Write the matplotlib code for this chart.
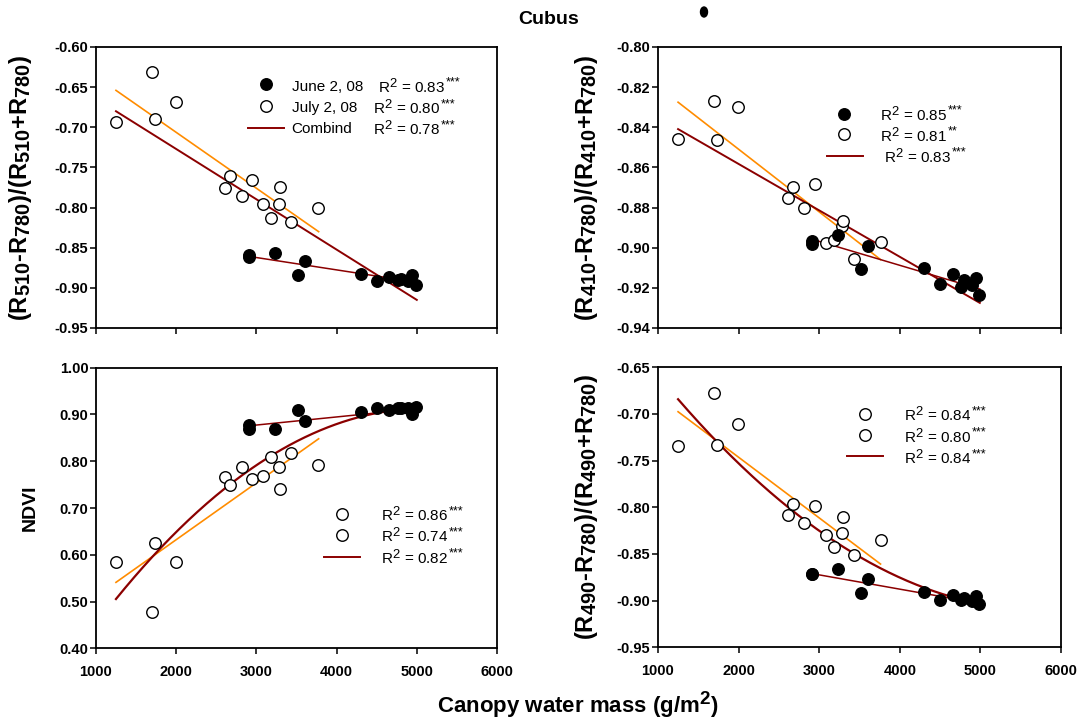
import matplotlib
matplotlib.use('Agg')
import matplotlib.pyplot as plt
import matplotlib._mathtext as _mt
import numpy as np
from matplotlib.patches import Ellipse
from matplotlib.text import Annotation

plt.rcParams['font.family'] = ['Liberation Sans', 'DejaVu Sans']
plt.rcParams['mathtext.fontset'] = 'custom'
plt.rcParams['mathtext.rm'] = 'Liberation Sans'
plt.rcParams['mathtext.bf'] = 'Liberation Sans:bold'
plt.rcParams['mathtext.it'] = 'Liberation Sans:italic'
plt.rcParams['mathtext.default'] = 'regular'
_mt.SHRINK_FACTOR = 0.85  # larger sub/superscripts as in the reference

# ---------------- data ----------------
june_x = [2905, 2910, 3236, 3518, 3611, 4300, 4502, 4654, 4760, 4801, 4895, 4946, 4985]
july_x = [1249, 1695, 1733, 1995, 2611, 2671, 2816, 2947, 3080, 3181, 3279, 3292, 3427, 3763]

# panel A: (R510-R780)/(R510+R780)
a_june = [-0.859, -0.862, -0.856, -0.884, -0.867, -0.883, -0.891, -0.887, -0.890, -0.889, -0.891, -0.884, -0.896]
a_july = [-0.693, -0.631, -0.690, -0.669, -0.775, -0.761, -0.785, -0.766, -0.796, -0.813, -0.795, -0.774, -0.818, -0.800]
a_fit_july = ([1249, 3776], [-0.654, -0.830])
a_fit_june = ([2920, 5000], [-0.861, -0.893])
a_fit_comb = ([1249, 5000], [-0.680, -0.915])

# panel B: (R410-R780)/(R410+R780)
b_june = [-0.8965, -0.8982, -0.8937, -0.9105, -0.8992, -0.9099, -0.9180, -0.9129, -0.9197, -0.9160, -0.9185, -0.9150, -0.9234]
b_july = [-0.8460, -0.8267, -0.8464, -0.8297, -0.8752, -0.8697, -0.8800, -0.8682, -0.8979, -0.8964, -0.8892, -0.8867, -0.9057, -0.8972]
b_fit_july = ([1249, 3761], [-0.8275, -0.9059])
b_fit_june = ([2903, 4993], [-0.8957, -0.9206])
b_fit_comb = ([1249, 4993], [-0.8409, -0.9275])

# panel C: NDVI
c_june = [0.877, 0.868, 0.869, 0.910, 0.887, 0.906, 0.913, 0.910, 0.913, 0.914, 0.914, 0.900, 0.917]
c_july = [0.584, 0.478, 0.626, 0.585, 0.766, 0.749, 0.788, 0.762, 0.768, 0.808, 0.788, 0.741, 0.817, 0.791]
c_fit_july = ([1249, 3776], [0.541, 0.848])
c_fit_june = ([2920, 5000], [0.876, 0.912])
c_curve_comb = ([1249, 1736, 2671, 3419, 4304, 5000], [0.505, 0.603, 0.749, 0.835, 0.897, 0.912])

# panel D: (R490-R780)/(R490+R780)
d_june = [-0.8715, -0.8715, -0.8665, -0.8915, -0.8765, -0.8904, -0.8990, -0.8943, -0.8990, -0.8975, -0.9000, -0.8945, -0.9035]
d_july = [-0.734, -0.678, -0.733, -0.711, -0.808, -0.796, -0.817, -0.799, -0.830, -0.843, -0.828, -0.810, -0.851, -0.835]
d_fit_july = ([1249, 3761], [-0.6976, -0.8608])
d_fit_june = ([2961, 4993], [-0.8718, -0.9029])
d_curve_comb = ([1249, 1726, 2670, 3426, 4293, 4993], [-0.6843, -0.7297, -0.803, -0.848, -0.8886, -0.902])

x_ticks = [1000, 2000, 3000, 4000, 5000, 6000]

# ---------------- figure ----------------
W, H = 1079, 721
fig = plt.figure(figsize=(W / 100, H / 100), dpi=100)

def fx(px):
    return px / W

def fy(py):
    return 1 - py / H

def make_ax(l, t, r, b):
    return fig.add_axes([fx(l), fy(b), (r - l) / W, (b - t) / H])

axA = make_ax(96, 47, 497, 328)
axB = make_ax(658, 47, 1061, 328)
axC = make_ax(96, 367.7, 497, 648.3)
axD = make_ax(658, 367.3, 1061, 647.3)

ORANGE = '#FF8C00'
DARKRED = '#8B0000'
MS = 8.3

def draw(ax, jy, ly, fj, fjn, comb, curve, ylim, yticks, fmt, showx):
    ax.plot(fj[0], fj[1], color=ORANGE, lw=1.2, zorder=2)
    ax.plot(fjn[0], fjn[1], color=DARKRED, lw=1.1, zorder=2)
    if curve:
        c = np.polyfit(comb[0], comb[1], 2)
        xs = np.linspace(comb[0][0], comb[0][-1], 200)
        ax.plot(xs, np.polyval(c, xs), color=DARKRED, lw=1.6, zorder=2)
    else:
        ax.plot(comb[0], comb[1], color=DARKRED, lw=1.4, zorder=2)
    ax.plot(july_x, ly, 'o', ms=MS, mfc='white', mec='black', mew=1.0, zorder=3)
    ax.plot(june_x, jy, 'o', ms=MS, mfc='black', mec='black', mew=1.0, zorder=4)
    ax.set_xlim(1000, 6000)
    ax.set_ylim(*ylim)
    ax.set_xticks(x_ticks)
    ax.set_yticks(yticks)
    ax.set_yticklabels([fmt % v for v in yticks])
    if showx:
        ax.set_xticklabels([str(v) for v in x_ticks])
    else:
        ax.set_xticklabels([])
    ax.tick_params(direction='out', length=4, width=1.1, top=False, right=False)
    ax.tick_params(axis='y', pad=1.5)
    ax.tick_params(axis='x', pad=8)
    for lab in ax.get_xticklabels() + ax.get_yticklabels():
        lab.set_fontweight('bold')
        lab.set_fontsize(10.5)
    for s in ax.spines.values():
        s.set_linewidth(1.3)

draw(axA, a_june, a_july, a_fit_july, a_fit_june, a_fit_comb, False,
     (-0.95, -0.60), [-0.95, -0.90, -0.85, -0.80, -0.75, -0.70, -0.65, -0.60], '%.2f', False)
draw(axB, b_june, b_july, b_fit_july, b_fit_june, b_fit_comb, False,
     (-0.94, -0.80), [-0.94, -0.92, -0.90, -0.88, -0.86, -0.84, -0.82, -0.80], '%.2f', False)
draw(axC, c_june, c_july, c_fit_july, c_fit_june, c_curve_comb, True,
     (0.40, 1.00), [0.40, 0.50, 0.60, 0.70, 0.80, 0.90, 1.00], '%.2f', True)
draw(axD, d_june, d_july, d_fit_july, d_fit_june, d_curve_comb, True,
     (-0.95, -0.65), [-0.95, -0.90, -0.85, -0.80, -0.75, -0.70, -0.65], '%.2f', True)

# ---------------- legends (manual) ----------------
def marker(px, py, filled):
    fig.add_artist(plt.Line2D([fx(px)], [fy(py)], marker='o', ms=MS,
                              mfc='black' if filled else 'white', mec='black', mew=1.0,
                              transform=fig.transFigure))

def sample(x0, x1, py):
    fig.add_artist(plt.Line2D([fx(x0), fx(x1)], [fy(py), fy(py)], color=DARKRED, lw=1.4,
                              transform=fig.transFigure))

def txt(px, py, s, stars=None):
    t = fig.text(fx(px), fy(py), s, fontsize=11, ha='left', va='center')
    if stars:
        a = Annotation(stars, xy=(1.0, 1.0), xycoords=t, xytext=(0.3, 0.5),
                       textcoords='offset points', ha='left', va='top', fontsize=9)
        fig.add_artist(a)
    return t

# A
marker(265.7, 84.3, True)
marker(265.7, 105.7, False)
sample(247.7, 284.3, 127.7)
txt(291.7, 86.7, 'June 2, 08')
txt(378.3, 86.7, 'R$^2$ = 0.83', '***')
txt(291.7, 108.3, 'July 2, 08')
txt(372.7, 108.3, 'R$^2$ = 0.80', '***')
txt(291.7, 129.3, 'Combind')
txt(372.7, 129.3, 'R$^2$ = 0.78', '***')
# B
marker(844.3, 113.7, True)
marker(844.3, 134.3, False)
sample(826.7, 863.3, 155.7)
txt(880, 115, 'R$^2$ = 0.85', '***')
txt(880, 135.7, 'R$^2$ = 0.81', '**')
txt(884.3, 156.7, 'R$^2$ = 0.83', '***')
# C
marker(341.7, 514, False)
marker(341.7, 535, False)
sample(324.3, 360, 556.7)
txt(381, 515.3, 'R$^2$ = 0.86', '***')
txt(381, 536.3, 'R$^2$ = 0.74', '***')
txt(381, 557.7, 'R$^2$ = 0.82', '***')
# D
marker(864.7, 414, False)
marker(864.7, 434.7, False)
sample(846.7, 883.3, 456)
txt(904, 415.3, 'R$^2$ = 0.84', '***')
txt(904, 436.7, 'R$^2$ = 0.80', '***')
txt(904, 458.3, 'R$^2$ = 0.84', '***')

# ---------------- labels ----------------
ylab_kw = dict(rotation=90, ha='center', va='center', fontweight='bold', fontsize=17)
fig.text(fx(21), fy(187.5), '(R$_{510}$-R$_{780}$)/(R$_{510}$+R$_{780}$)', **ylab_kw)
fig.text(fx(586), fy(187.5), '(R$_{410}$-R$_{780}$)/(R$_{410}$+R$_{780}$)', **ylab_kw)
fig.text(fx(30), fy(508), 'NDVI', rotation=90, ha='center', va='center',
         fontweight='bold', fontsize=14)
fig.text(fx(586), fy(507), '(R$_{490}$-R$_{780}$)/(R$_{490}$+R$_{780}$)', **ylab_kw)

fig.text(fx(578), fy(705), 'Canopy water mass (g/m$^2$)', ha='center', va='center',
         fontweight='bold', fontsize=16)
fig.text(fx(549), fy(20), 'Cubus', ha='center', va='center', fontweight='bold', fontsize=14)
fig.add_artist(Ellipse((fx(704), fy(12)), width=7 / W, height=10 / H, color='black',
                       transform=fig.transFigure))

fig.savefig('out.png', dpi=100)
